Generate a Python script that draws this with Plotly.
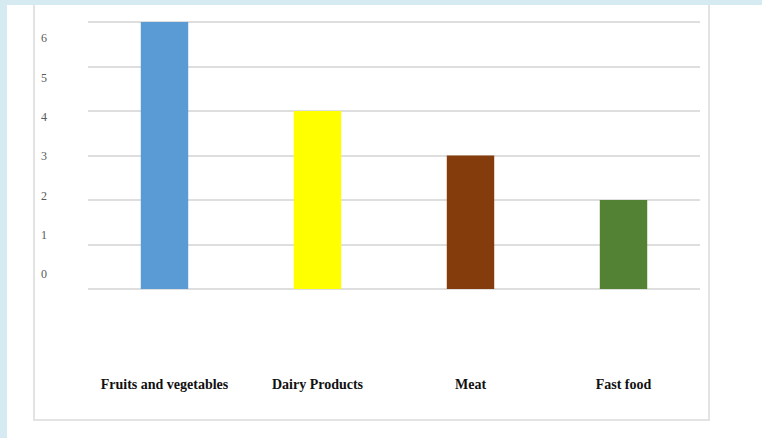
import plotly.graph_objects as go

categories = ["Fruits and vegetables", "Dairy Products", "Meat", "Fast food"]
values = [6, 4, 3, 2]
bar_colors = ["#5b9bd5", "#ffff00", "#843c0c", "#548235"]
y_ticks = [0, 1, 2, 3, 4, 5, 6]

W, H = 762, 438
pad = 3
L, R, T, B = 88, 62, 22 - pad, 149 - pad
pw, ph = W - L - R, H - T - B
bottom_px = H - B

def px_x(px):
    return (px - L) / pw

def px_y(py):
    return (bottom_px - py) / ph

eps = 6 * pad / (ph - 2 * pad)

fig = go.Figure()
fig.add_trace(go.Bar(
    x=categories, y=values, marker_color=bar_colors,
    marker_line_width=0, width=0.31, showlegend=False,
))
# invisible trace for the offset tick-label axis
fig.add_trace(go.Scatter(x=[categories[0]], y=[0], yaxis="y2",
                         mode="markers", marker_opacity=0, showlegend=False,
                         hoverinfo="skip"))

# label axis: 0 at py=274, 6 at py=38
unit = (274 - 38) / 6
a = -(bottom_px - 274) / unit
b = a + ph / unit

fig.update_layout(
    width=W, height=H,
    margin=dict(l=L, r=R, t=T, b=B),
    paper_bgcolor="#d6eaf1",
    plot_bgcolor="rgba(0,0,0,0)",
    xaxis=dict(
        showgrid=False, zeroline=False, showline=False, ticks="",
        tickfont=dict(family="Liberation Serif", size=14, color="#111111",
                      weight="bold"),
        ticklabelstandoff=82,
    ),
    yaxis=dict(
        range=[-eps, 6 + eps], tickvals=y_ticks, showgrid=True,
        gridcolor="#dedede", gridwidth=1.5,
        zeroline=False, showticklabels=False, ticks="", fixedrange=True,
    ),
    yaxis2=dict(
        overlaying="y", side="left", range=[a, b],
        tickvals=y_ticks, ticktext=[str(v) for v in y_ticks],
        showgrid=False, zeroline=False, ticks="",
        tickfont=dict(family="Liberation Serif", size=12, color="#595959"),
        ticklabelstandoff=40,
    ),
    shapes=[
        dict(type="rect", xref="paper", yref="paper", layer="below",
             x0=px_x(7), x1=px_x(W + 5), y0=px_y(5), y1=px_y(H + 5),
             fillcolor="white", line_width=0),
        dict(type="rect", xref="paper", yref="paper", layer="below",
             x0=px_x(34), x1=px_x(709), y0=px_y(-5), y1=px_y(420),
             fillcolor="white", line=dict(color="#e3e3e3", width=2)),
        dict(type="rect", xref="paper", yref="paper", layer="below",
             x0=px_x(-5), x1=px_x(W + 5), y0=px_y(-5), y1=px_y(5),
             fillcolor="#d6eaf1", line_width=0),
    ],
)

fig.write_html("out.html")
